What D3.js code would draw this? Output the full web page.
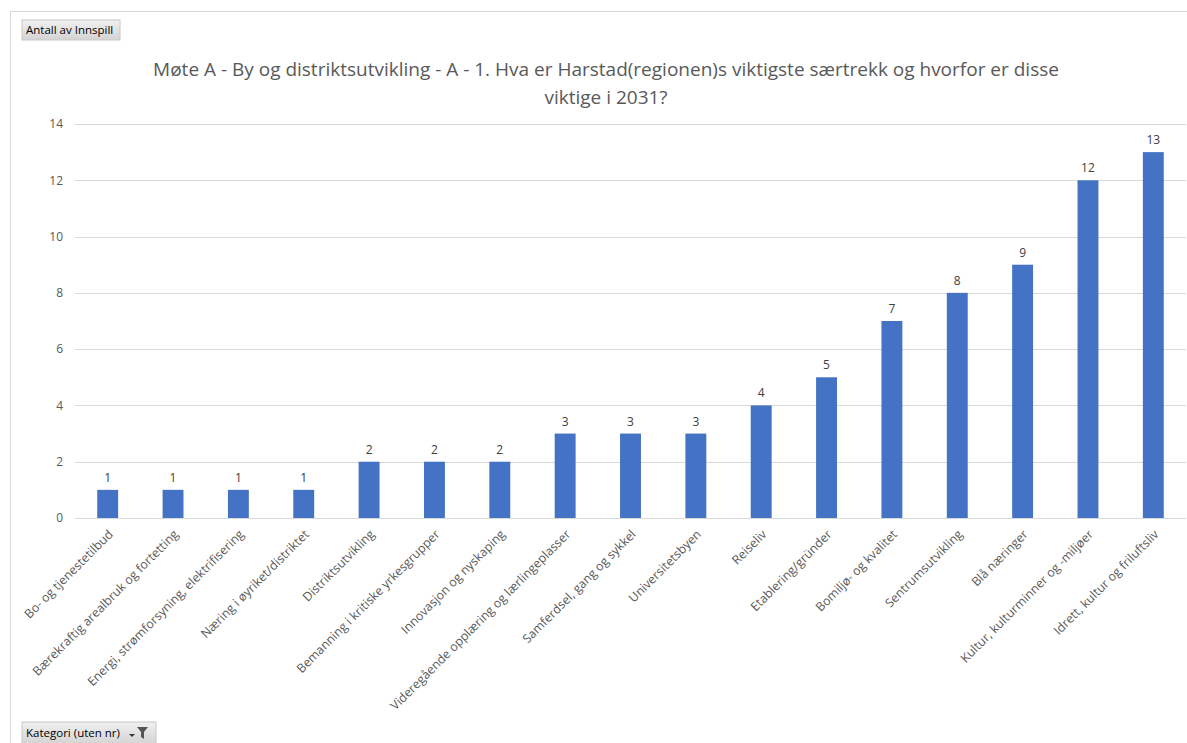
<!DOCTYPE html>
<html><head><meta charset="utf-8">
<script src="https://cdn.jsdelivr.net/npm/d3@7"></script>
<style>
html,body{margin:0;padding:0;background:#fff;}
svg{display:block;font-family:"Open Sans",Lato,sans-serif;}
</style></head>
<body>
<svg id="chart" width="1187" height="743"></svg>
<script>
const categories = [
  "Bo- og tjenestetilbud",
  "Bærekraftig arealbruk og fortetting",
  "Energi, strømforsyning, elektrifisering",
  "Næring i øyriket/distriktet",
  "Distriktsutvikling",
  "Bemanning i kritiske yrkesgrupper",
  "Innovasjon og nyskaping",
  "Videregående opplæring og lærlingeplasser",
  "Samferdsel, gang og sykkel",
  "Universitetsbyen",
  "Reiseliv",
  "Etablering/gründer",
  "Bomiljø- og kvalitet",
  "Sentrumsutvikling",
  "Blå næringer",
  "Kultur, kulturminner og -miljøer",
  "Idrett, kultur og friluftsliv"
];
const values = [1,1,1,1,2,2,2,3,3,3,4,5,7,8,9,12,13];
const yTicks = [0,2,4,6,8,10,12,14];
const titleLines = [
  "Møte A - By og distriktsutvikling - A - 1. Hva er Harstad(regionen)s viktigste særtrekk og hvorfor er disse",
  "viktige i 2031?"
];
const valueFieldLabel = "Antall av Innspill";
const axisFieldLabel = "Kategori (uten nr)";

const svg = d3.select("#chart");
const defs = svg.append("defs");
const grad = defs.append("linearGradient").attr("id","btn").attr("x1",0).attr("y1",0).attr("x2",0).attr("y2",1);
grad.append("stop").attr("offset","0%").attr("stop-color","#f0f0f0");
grad.append("stop").attr("offset","100%").attr("stop-color","#d4d4d4");

// outer frame
svg.append("rect").attr("x",10.5).attr("y",11.5).attr("width",1190).attr("height",760)
  .attr("fill","#fff").attr("stroke","#d9d9d9");

const x = d3.scaleBand().domain(categories).range([75,1186]).paddingInner(0.68).paddingOuter(0.34);
const y = d3.scaleLinear().domain([0,14]).range([518,124]);

// gridlines
svg.append("g").selectAll("line").data(yTicks).join("line")
  .attr("x1",75).attr("x2",1186)
  .attr("y1",d=>Math.round(y(d))+0.5).attr("y2",d=>Math.round(y(d))+0.5)
  .attr("stroke","#d9d9d9").attr("stroke-width",1);

// y axis labels
const yAxis = d3.axisLeft(y).tickValues(yTicks).tickSize(0).tickPadding(0);
const gy = svg.append("g").attr("transform","translate(63,0)").call(yAxis);
gy.select(".domain").remove();
gy.selectAll("text").attr("fill","#595959").style("font-size","12px").style("font-family","'Open Sans',sans-serif");

// bars
svg.append("g").selectAll("rect").data(values).join("rect")
  .attr("x",(d,i)=>x(categories[i]))
  .attr("width",x.bandwidth())
  .attr("y",d=>y(d))
  .attr("height",d=>y(0)-y(d))
  .attr("fill","#4472c4");

// data labels
svg.append("g").selectAll("text").data(values).join("text")
  .attr("x",(d,i)=>x(categories[i])+x.bandwidth()/2)
  .attr("y",d=>y(d)-8)
  .attr("text-anchor","middle")
  .attr("fill","#404040").style("font-size","12px")
  .text(d=>d);

// x axis labels
const xAxis = d3.axisBottom(x).tickSize(0).tickPadding(0);
const gx = svg.append("g").attr("transform","translate(0,518)").call(xAxis);
gx.select(".domain").remove();
gx.selectAll("text")
  .attr("fill","#595959").style("font-size","12.3px").style("font-family","'Open Sans',sans-serif")
  .attr("text-anchor","end").attr("dy","0.35em")
  .attr("transform","translate(3,14) rotate(-45)")
  .attr("y",0).attr("x",0);

// title
svg.append("g").selectAll("text").data(titleLines).join("text")
  .attr("x",606).attr("y",(d,i)=>76+i*28)
  .attr("text-anchor","middle").attr("fill","#595959")
  .style("font-size","19px")
  .text(d=>d);

// field buttons
function button(xp,yp,w,h,label,icon){
  const g = svg.append("g").attr("transform",`translate(${xp},${yp})`);
  g.append("rect").attr("width",w).attr("height",h).attr("fill","url(#btn)").attr("stroke","#c8c8c8");
  g.append("text").attr("x",4).attr("y",h/2).attr("dy","0.35em").attr("fill","#000")
    .style("font-size","11.5px").text(label);
  if(icon){
    g.append("path").attr("d",`M${w-27},${h/2+1}h6l-3,3z`).attr("fill","#333");
    g.append("path").attr("d",`M${w-19},${h/2-6}h11l-4,5v7l-3,-2v-5z`).attr("fill","#555");
  }
}
button(22,20,98,20,valueFieldLabel,false);
button(22,722,134,22,axisFieldLabel,true);
</script>
</body></html>
